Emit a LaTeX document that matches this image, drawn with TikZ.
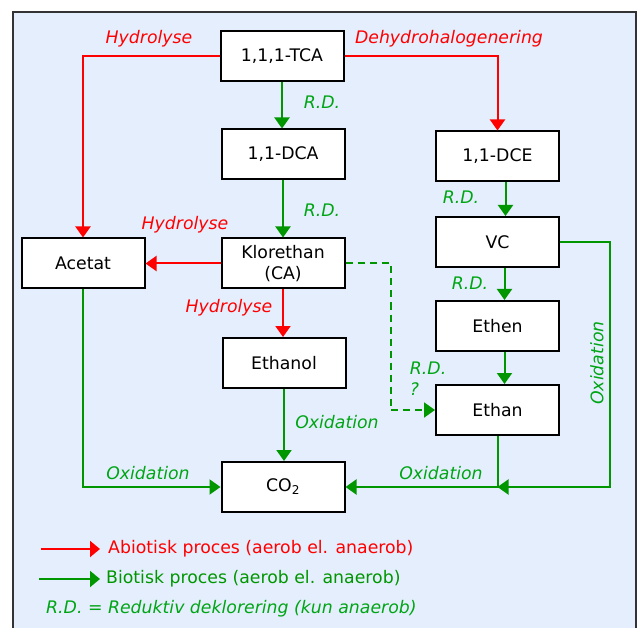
\documentclass[tikz,border=0pt]{standalone}
\usepackage{fontspec}
\setmainfont{DejaVu Sans}
\usetikzlibrary{arrows.meta}

\definecolor{bgblue}{RGB}{228,238,253}
\definecolor{abiored}{RGB}{255,0,0}
\definecolor{biogreen}{RGB}{0,150,0}
\definecolor{rdgreen}{RGB}{0,165,20}

\tikzset{
    box/.style={draw=black, line width=2pt, fill=white, minimum width=123pt,
        minimum height=50pt, align=center, inner sep=2pt},
    abio/.style={draw=abiored, line width=2pt, -{Triangle[length=11pt,width=15pt]}},
    bio/.style={draw=biogreen, line width=2pt, -{Triangle[length=11pt,width=15pt]}},
    redlab/.style={text=abiored, font=\itshape},
    greenlab/.style={text=rdgreen, font=\itshape}
}

\begin{document}
\fontsize{17.3}{21}\selectfont
\begin{tikzpicture}[x=1pt,y=-1pt]
    % Frame and background
    \useasboundingbox (0,0) rectangle (637,628);
    \clip (0,0) rectangle (637,628);
    \draw [fill=bgblue, draw=black!80, line width=2pt] (13,12) rectangle (636,650);

    % Draw boxes
    \node [box] (tca) at (282,56.5) {1,1,1-TCA};
    \node [box] (dca) at (283,154.5) {1,1-DCA};
    \node [box] (dce) at (497.5,156.5) {1,1-DCE};
    \node [box] (acetat) at (83,263.5) {Acetat};
    \node [box] (ca) at (283,263.5) {Klorethan\\(CA)};
    \node [box] (vc) at (497.5,242) {VC};
    \node [box] (ethen) at (497.5,326) {Ethen};
    \node [box] (ethanol) at (284,363) {Ethanol};
    \node [box] (ethan) at (497.5,410) {Ethan};
    \node [box] (co2) at (283,487) {CO\textsubscript{2}};

    % Abiotic routes
    \draw [abio] (tca.west) -| (acetat.north);
    \draw [abio] (tca.east) -| (dce.north);
    \draw [abio] (ca.west) -- (acetat.east);
    \draw [abio] (ca.south) -- (ca.south |- ethanol.north);

    % Biotic routes
    \draw [bio] (tca.south) -- (tca.south |- dca.north);
    \draw [bio] (dca.south) -- (ca.north);
    \draw [bio] ([xshift=8pt]dce.south) -- ([xshift=8pt]vc.north);
    \draw [bio] ([xshift=7pt]vc.south) -- ([xshift=7pt]ethen.north);
    \draw [bio] ([xshift=7pt]ethen.south) -- ([xshift=7pt]ethan.north);
    \draw [bio] (ethanol.south) -- (ethanol.south |- co2.north);
    \draw [bio] (acetat.south) |- (co2.west);
    \draw [bio] (ethan.south) |- (co2.east);
    \draw [bio, dash pattern=on 7pt off 5pt] (ca.east) -- ++(45,0) |- (ethan.west);

    % VC oxidation joins the Ethan line
    \coordinate (oxcorner) at (610,487);
    \coordinate (oxjoin) at (ethan.south |- co2.east);
    \draw [bio] (vc.east) -| (oxcorner) -- (oxjoin);

    % Labels
    \node [redlab] (hyd1) at (149,39) {Hydrolyse};
    \node [redlab] (dehyd) at (449,39) {Dehydrohalogenering};
    \node [redlab] (hyd2) at (185,225) {Hydrolyse};
    \node [redlab] (hyd3) at (229,308) {Hydrolyse};
    \node [greenlab] (rd1) at (322,102) {R.D.};
    \node [greenlab] (rd2) at (322,210) {R.D.};
    \node [greenlab] (rd3) at (461,197) {R.D.};
    \node [greenlab] (rd4) at (470,283) {R.D.};
    \node [greenlab, anchor=west, align=left] (rd5) at (404,379) {R.D.\\?};
    \node [greenlab, rotate=90] (ox1) at (597,363) {Oxidation};
    \node [greenlab] (ox2) at (337,422) {Oxidation};
    \node [greenlab] (ox3) at (148,473) {Oxidation};
    \node [greenlab] (ox4) at (441,473) {Oxidation};

    % Legend
    \coordinate (leg1a) at (41,549);
    \coordinate (leg1b) at (100,549);
    \coordinate (leg2a) at (39,579);
    \coordinate (leg2b) at (100,579);
    \draw [abio, -{Triangle[length=10pt,width=16pt]}] (leg1a) -- (leg1b);
    \draw [bio, -{Triangle[length=10pt,width=16pt]}] (leg2a) -- (leg2b);
    \node [anchor=west, text=abiored, inner sep=0pt] (legtxt1) at (108,549) {Abiotisk proces (aerob el. anaerob)};
    \node [anchor=west, text=biogreen, inner sep=0pt] (legtxt2) at (106,579) {Biotisk proces (aerob el. anaerob)};
    \node [anchor=west, greenlab, inner sep=0pt] (legtxt3) at (46,609) {R.D. = Reduktiv deklorering (kun anaerob)};
\end{tikzpicture}
\end{document}
